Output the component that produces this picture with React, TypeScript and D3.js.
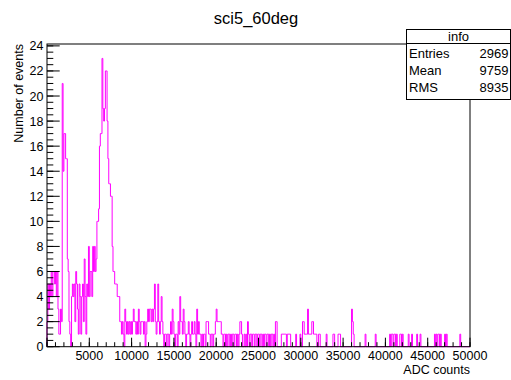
import React from "react";
import * as d3 from "d3";

// Histogram "sci5_60deg": 500 bins of 100 ADC counts over [0, 50000)
const xMin = 0;
const xMax = 50000;
const binWidth = 100;

const counts: number[] = [
  // 0 - 4900
  2, 5, 3, 5, 4, 6, 4, 6, 6, 5,
  6, 4, 6, 3, 1, 1, 3, 2, 21, 14,
  17, 17, 15, 15, 7, 6, 2, 1, 0, 4,
  5, 4, 5, 2, 6, 5, 3, 1, 5, 4,
  1, 4, 5, 2, 7, 4, 1, 5, 4, 8,
  // 5000 - 9900
  4, 6, 6, 4, 8, 6, 8, 6, 7, 10,
  10, 11, 16, 17, 17, 23, 19, 18, 19, 22,
  22, 18, 15, 13, 13, 12, 12, 8, 6, 6,
  5, 5, 5, 4, 4, 4, 2, 2, 1, 2,
  1, 0, 3, 2, 1, 2, 1, 2, 1, 2,
  // 10000 - 14900
  1, 2, 3, 2, 2, 1, 2, 1, 3, 2,
  1, 2, 2, 2, 1, 2, 0, 1, 2, 3,
  2, 3, 3, 2, 3, 2, 3, 5, 2, 1,
  2, 5, 2, 1, 2, 4, 2, 1, 0, 1,
  1, 0, 1, 1, 0, 1, 2, 1, 3, 2,
  // 15000 - 19900
  1, 0, 1, 1, 0, 2, 1, 4, 2, 2,
  1, 3, 2, 1, 0, 1, 1, 2, 1, 0,
  1, 2, 1, 1, 2, 1, 0, 3, 1, 2,
  1, 1, 0, 1, 0, 1, 1, 0, 2, 2,
  2, 1, 1, 0, 1, 1, 0, 1, 1, 2,
  // 20000 - 24900
  3, 2, 2, 2, 2, 2, 1, 1, 0, 1,
  1, 0, 1, 0, 1, 1, 0, 1, 0, 1,
  1, 0, 1, 1, 0, 1, 0, 1, 2, 2,
  1, 0, 0, 1, 0, 1, 0, 2, 1, 0,
  1, 1, 0, 1, 1, 0, 1, 1, 0, 1,
  // 25000 - 29900
  1, 0, 1, 1, 0, 1, 0, 1, 1, 0,
  1, 1, 0, 1, 0, 1, 1, 0, 1, 0,
  2, 2, 0, 0, 0, 0, 0, 1, 1, 1,
  1, 1, 1, 0, 1, 1, 1, 1, 0, 0,
  0, 0, 0, 0, 1, 0, 0, 0, 0, 1,
  // 30000 - 34900
  0, 0, 2, 2, 1, 1, 1, 1, 3, 1,
  1, 1, 1, 2, 2, 1, 1, 1, 1, 0,
  0, 1, 1, 0, 0, 0, 0, 0, 0, 0,
  1, 0, 0, 0, 0, 0, 0, 0, 1, 1,
  0, 0, 0, 0, 1, 1, 1, 0, 0, 0,
  // 35000 - 39900
  0, 0, 0, 0, 0, 0, 0, 0, 0, 0,
  3, 2, 1, 0, 0, 0, 0, 0, 0, 0,
  0, 0, 0, 0, 0, 0, 1, 0, 0, 0,
  0, 0, 0, 0, 0, 0, 0, 0, 1, 0,
  0, 0, 0, 0, 0, 0, 0, 0, 0, 0,
  // 40000 - 44900
  0, 0, 0, 0, 0, 1, 0, 1, 1, 0,
  1, 1, 0, 1, 0, 0, 0, 1, 1, 0,
  1, 0, 0, 0, 0, 0, 0, 1, 0, 0,
  0, 1, 0, 0, 0, 0, 0, 1, 0, 0,
  0, 1, 0, 0, 0, 0, 0, 0, 0, 0,
  // 45000 - 49900
  0, 0, 0, 0, 0, 0, 0, 0, 1, 0,
  1, 0, 1, 1, 0, 1, 0, 0, 0, 0,
  1, 0, 1, 0, 0, 0, 0, 0, 0, 0,
  0, 0, 0, 0, 0, 0, 0, 0, 1, 0,
  0, 0, 0, 0, 0, 0, 0, 0, 0, 0,
];

const xMajorTicks = d3.range(0, 50001, 5000);
const xMinorTicks = d3.range(0, 50001, 1000);
const xTickLabels = ["", "5000", "10000", "15000", "20000", "25000", "30000", "35000", "40000", "45000", "50000"];
const yMajorTicks = d3.range(0, 25, 2);
const yMinorTicks = d3.range(0, 24.01, 0.5);

const statsLabels = ["Entries", "Mean", "RMS"];
const statsValues = ["2969", "9759", "8935"];

const title = "sci5_60deg";
const xTitle = "ADC counts";
const yTitle = "Number of events";

export default function App() {
  const width = 511;
  const height = 380;
  const frame = { left: 47, right: 470, top: 44, bottom: 346.7 };
  const yMax = d3.max(counts)! * 1.05;

  const x = d3.scaleLinear().domain([xMin, xMax]).range([frame.left, frame.right]);
  const y = d3.scaleLinear().domain([0, yMax]).range([frame.bottom, frame.top]);

  const pts: [number, number][] = [[xMin, 0]];
  counts.forEach((c, i) => pts.push([xMin + i * binWidth, c]));
  pts.push([xMin + counts.length * binWidth, 0]);
  const histPath = d3
    .line<[number, number]>()
    .x((d) => x(d[0]))
    .y((d) => y(d[1]))
    .curve(d3.curveStepAfter)(pts)!;

  const font = "'Liberation Sans', Arial, sans-serif";
  const box = { left: 406.5, right: 510.5, top: 29.5, header: 43.5, bottom: 99.5 };

  const xMajLen = 9;
  const xMinLen = 4.5;
  const yMajLen = 12.7;
  const yMinLen = 6.3;

  return (
    <svg
      width={width}
      height={height}
      style={{ position: "absolute", left: 0, top: 0, background: "#fff" }}
      fontFamily={font}
    >
      <rect x={0} y={0} width={width} height={height} fill="#fff" />
      <text x={256} y={24} textAnchor="middle" fontSize={16.5} fill="#000">
        {title}
      </text>

      <path d={histPath} fill="none" stroke="#ff00ff" strokeWidth={1} />

      {/* frame */}
      <rect
        x={frame.left}
        y={frame.top}
        width={frame.right - frame.left}
        height={frame.bottom - frame.top}
        fill="none"
        stroke="#000"
        strokeWidth={1}
      />

      {/* x axis ticks */}
      {xMinorTicks.map((t) => (
        <line key={"xm" + t} x1={x(t)} x2={x(t)} y1={frame.bottom} y2={frame.bottom - xMinLen} stroke="#000" />
      ))}
      {xMajorTicks.map((t) => (
        <line key={"xM" + t} x1={x(t)} x2={x(t)} y1={frame.bottom} y2={frame.bottom - xMajLen} stroke="#000" />
      ))}
      {xMajorTicks.map((t, i) => (
        <text key={"xl" + t} x={x(t)} y={360} textAnchor="middle" fontSize={12.5} fill="#000">
          {xTickLabels[i]}
        </text>
      ))}
      <text x={frame.right} y={374} textAnchor="end" fontSize={12.5} fill="#000">
        {xTitle}
      </text>

      {/* y axis ticks */}
      {yMinorTicks.map((t) => (
        <line key={"ym" + t} x1={frame.left} x2={frame.left + yMinLen} y1={y(t)} y2={y(t)} stroke="#000" />
      ))}
      {yMajorTicks.map((t) => (
        <line key={"yM" + t} x1={frame.left} x2={frame.left + yMajLen} y1={y(t)} y2={y(t)} stroke="#000" />
      ))}
      {yMajorTicks.map((t) => (
        <text key={"yl" + t} x={43.5} y={y(t) + 4.5} textAnchor="end" fontSize={12.5} fill="#000">
          {t}
        </text>
      ))}
      <text
        transform={`translate(22.5, ${frame.top}) rotate(-90)`}
        textAnchor="end"
        fontSize={12.5}
        fill="#000"
      >
        {yTitle}
      </text>

      {/* statistics box */}
      <rect
        x={box.left}
        y={box.top}
        width={box.right - box.left}
        height={box.bottom - box.top}
        fill="#fff"
        stroke="#000"
        strokeWidth={1}
      />
      <line x1={box.left} x2={box.right} y1={box.header} y2={box.header} stroke="#000" />
      <text x={(box.left + box.right) / 2} y={41} textAnchor="middle" fontSize={13} fill="#000">
        info
      </text>
      {statsLabels.map((l, i) => (
        <g key={l}>
          <text x={409} y={58 + i * 17} fontSize={13} fill="#000">
            {l}
          </text>
          <text x={508.5} y={58 + i * 17} textAnchor="end" fontSize={13} fill="#000">
            {statsValues[i]}
          </text>
        </g>
      ))}
    </svg>
  );
}
